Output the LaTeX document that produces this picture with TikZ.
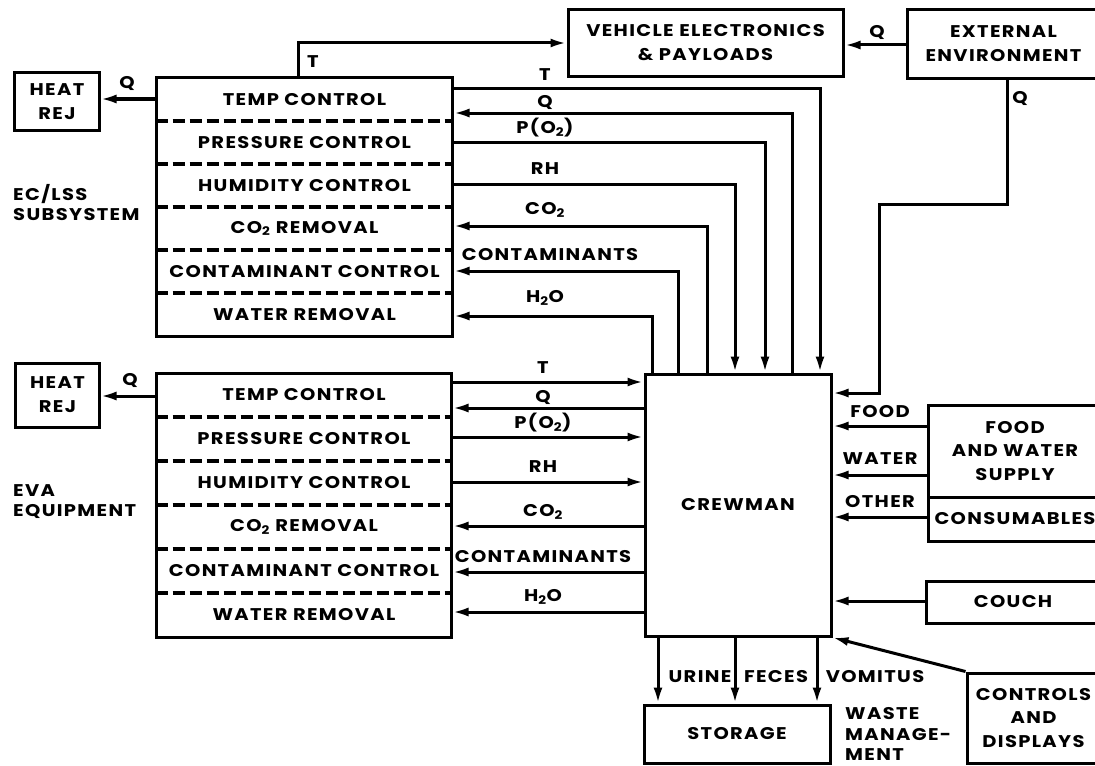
\documentclass[tikz,border=0pt]{standalone}
\usepackage{fontspec}
\setsansfont{Poppins}[LetterSpace=8, FakeStretch=1.15]
\usetikzlibrary{arrows.meta}

\newcommand{\lab}{\sffamily\bfseries\fontsize{17}{24}\selectfont}
\newcommand{\dn}[1]{\textsubscript{#1}}

\tikzset{
  box/.style={draw, line width=3bp, inner sep=0pt, font=\lab, align=center},
  txt/.style={font=\lab, inner sep=0pt, align=center},
  flow/.style={line width=3bp, -{Latex[length=16bp,width=9bp]}},
  sep/.style={line width=3.2bp, dash pattern=on 12bp off 5bp},
}

\begin{document}
\begin{tikzpicture}[x=1bp, y=-1bp]
\path[fill=white, use as bounding box] (0,0) rectangle (1095,766);

% EC/LSS subsystem
\node[box, minimum width=295bp, minimum height=258bp] (ec) at (304.5,207) {};
\foreach \t [count=\i] in {TEMP CONTROL, PRESSURE CONTROL, HUMIDITY CONTROL, CO\dn{2} REMOVAL, CONTAMINANT CONTROL, WATER REMOVAL}
  \node[txt] (ec-\i) at (304.5,{78+43*\i-21.5}) {\t};
\foreach \k in {1,...,5}
  \draw[sep] (ec.west |- 0,{78+43*\k}) -- (ec.east |- 0,{78+43*\k});
\node[box, minimum width=84bp, minimum height=57bp] (hr1) at (57,101.5) {HEAT\\REJ};
\node[txt] (hr1-q) at (127,83) {Q};
\node[txt, anchor=west, align=left] (ec-name) at (13,202.5) {EC/LSS\\[-3bp]SUBSYSTEM};

% EVA equipment
\node[box, minimum width=294bp, minimum height=264bp] (eva) at (304,505) {};
\foreach \t [count=\i] in {TEMP CONTROL, PRESSURE CONTROL, HUMIDITY CONTROL, CO\dn{2} REMOVAL, CONTAMINANT CONTROL, WATER REMOVAL}
  \node[txt] (eva-\i) at (304,{373+44*\i-22}) {\t};
\foreach \k in {1,...,5}
  \draw[sep] (eva.west |- 0,{373+44*\k}) -- (eva.east |- 0,{373+44*\k});
\node[box, minimum width=83bp, minimum height=64bp] (hr2) at (57.5,395) {HEAT\\REJ};
\node[txt] (hr2-q) at (130,380) {Q};
\node[txt, anchor=west, align=left] (eva-name) at (13,502) {EVA\\[-4bp]EQUIPMENT};

% crewman and the boxes round it
\node[box, minimum width=186bp, minimum height=262bp] (crew) at (738,505) {CREWMAN};
\node[box, minimum width=275bp, minimum height=66bp] (veh) at (705.5,43) {VEHICLE ELECTRONICS\\\& PAYLOADS};
\node[box, minimum width=193bp, minimum height=68bp] (ext) at (1003.5,44) {EXTERNAL\\ENVIRONMENT};
\node[box, minimum width=174bp, minimum height=92bp] (food) at (1015,451) {FOOD\\AND WATER\\SUPPLY};
\node[box, minimum width=174bp, minimum height=44bp] (cons) at (1015,519) {CONSUMABLES};
\node[box, minimum width=174bp, minimum height=42bp] (couch) at (1013,602) {COUCH};
\node[box, minimum width=133bp, minimum height=90bp] (ctrl) at (1033.5,718) {CONTROLS\\AND\\DISPLAYS};
\node[box, minimum width=186bp, minimum height=58bp] (store) at (737,734) {STORAGE};
\node[txt, anchor=west, align=left] (waste) at (845,734) {WASTE\\[-3bp]MANAGE-\\[-3bp]MENT};

% heat rejection
\draw[flow] (ec.west |- 0,99) -- (hr1.east |- 0,99);
\draw[flow] (eva.west |- 0,396) -- (hr2.east |- 0,396);

% EC/LSS <-> crewman
\draw[flow] (ec.east |- 0,89) -| (crew.north -| 820,0);
\draw[flow] (crew.north -| 792,0) |- (ec.east |- 0,113);
\draw[flow] (ec.east |- 0,142) -| (crew.north -| 765,0);
\draw[flow] (ec.east |- 0,184) -| (crew.north -| 735,0);
\draw[flow] (crew.north -| 707,0) |- (ec.east |- 0,226);
\draw[flow] (crew.north -| 678,0) |- (ec.east |- 0,271);
\draw[flow] (crew.north -| 652,0) |- (ec.east |- 0,316);
\node[txt] (ec-t) at (545,75) {T};
\node[txt] (ec-q) at (545,102) {Q};
\node[txt] (ec-p) at (545,128) {P(O\dn{2})};
\node[txt] (ec-rh) at (545,169) {RH};
\node[txt] (ec-co) at (545,210) {CO\dn{2}};
\node[txt] (ec-cont) at (550,255) {CONTAMINANTS};
\node[txt] (ec-h) at (545,298) {H\dn{2}O};

% EVA <-> crewman
\draw[flow] (eva.east |- 0,382) -- (crew.west |- 0,382);
\draw[flow] (crew.west |- 0,408) -- (eva.east |- 0,408);
\draw[flow] (eva.east |- 0,437) -- (crew.west |- 0,437);
\draw[flow] (eva.east |- 0,482) -- (crew.west |- 0,482);
\draw[flow] (crew.west |- 0,526) -- (eva.east |- 0,526);
\draw[flow] (crew.west |- 0,572) -- (eva.east |- 0,572);
\draw[flow] (crew.west |- 0,612) -- (eva.east |- 0,612);
\node[txt] (eva-t) at (543,368) {T};
\node[txt] (eva-q) at (543,397) {Q};
\node[txt] (eva-p) at (543,423) {P(O\dn{2})};
\node[txt] (eva-rh) at (543,467) {RH};
\node[txt] (eva-co) at (543,512) {CO\dn{2}};
\node[txt] (eva-cont) at (543,557) {CONTAMINANTS};
\node[txt] (eva-h) at (543,597) {H\dn{2}O};

% vehicle and outside
\draw[flow] (ec.north -| 298,0) |- (veh.west);
\node[txt, anchor=west] (veh-t) at (307,62) {T};
\draw[flow] (ext.west |- 0,45) -- (veh.east |- 0,45);
\node[txt] (ext-q) at (877,32) {Q};
\draw[flow] (ext.south -| 1007,0) |- (879,204) |- (crew.east |- 0,393);
\node[txt] (ext-q2) at (1020,98) {Q};

% supplies
\draw[flow] (food.west |- 0,426) -- (crew.east |- 0,426);
\draw[flow] (food.west |- 0,475) -- (crew.east |- 0,475);
\draw[flow] (cons.west |- 0,517) -- (crew.east |- 0,517);
\draw[flow] (couch.west |- 0,601) -- (crew.east |- 0,601);
\draw[flow] (ctrl.north west) -- (crew.south east);
\node[txt] (food-l) at (880,412) {FOOD};
\node[txt] (water-l) at (880,459) {WATER};
\node[txt] (other-l) at (880,502) {OTHER};

% waste
\draw[flow] (crew.south -| 658,0) -- (store.north -| 658,0);
\draw[flow] (crew.south -| 735,0) -- (store.north -| 735,0);
\draw[flow] (crew.south -| 817,0) -- (store.north -| 817,0);
\node[txt] (urine-l) at (700,677) {URINE};
\node[txt] (feces-l) at (776,677) {FECES};
\node[txt] (vomit-l) at (875,677) {VOMITUS};
\end{tikzpicture}
\end{document}
